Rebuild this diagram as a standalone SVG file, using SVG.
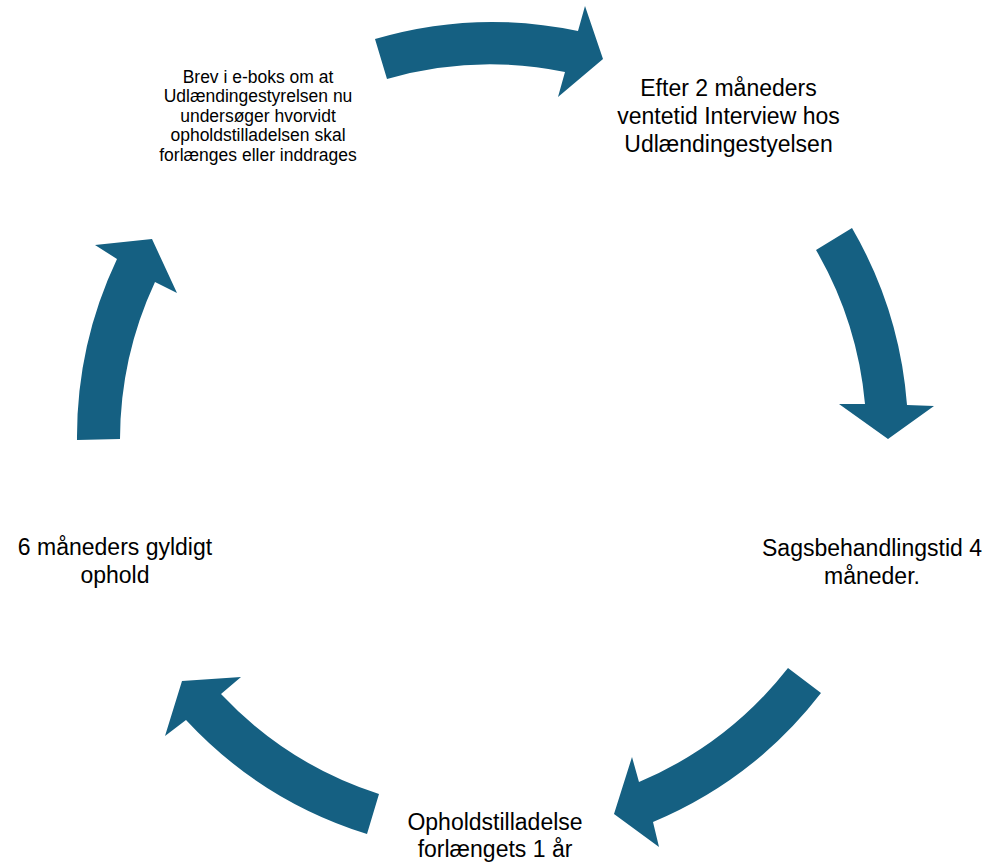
<svg xmlns="http://www.w3.org/2000/svg" width="987" height="864" viewBox="0 0 987 864">
<style>
.arrow{fill:#156082;stroke:none}
.lbl{font-family:"Liberation Sans",Arial,sans-serif;fill:#000;text-anchor:middle}
.big{font-size:23px}
.small{font-size:17.5px}
</style>
<rect width="987" height="864" fill="#fff"/>
<g id="connectors">
<path class="arrow" d="M375 39 A416 416 0 0 1 578 31 L585 6 L603 59 L558 97 L565 72 A374 374 0 0 0 387 79 Z"/>
<path class="arrow" d="M852 228 A416 416 0 0 1 907 405 L934 406 L888 439 L839 404 L865 404 A374 374 0 0 0 816 250 Z"/>
<path class="arrow" d="M821 693 A416 416 0 0 1 653 822 L659 847 L614 814 L632 757 L639 782 A374 374 0 0 0 788 668 Z"/>
<path class="arrow" d="M367 834 A416 416 0 0 1 186 720 L165 736 L182 681 L241 677 L221 694 A374 374 0 0 0 379 794 Z"/>
<path class="arrow" d="M77 440 A416 416 0 0 1 117 259 L95 245 L152 239 L177 293 L155 282 A374 374 0 0 0 120 439 Z"/>
</g>
<g id="node-brev">
<text class="lbl small" x="258" y="82.5">Brev i e-boks om at</text>
<text class="lbl small" x="258" y="102">Udlændingestyrelsen nu</text>
<text class="lbl small" x="258" y="121.5">undersøger hvorvidt</text>
<text class="lbl small" x="258" y="141">opholdstilladelsen skal</text>
<text class="lbl small" x="258" y="160.5">forlænges eller inddrages</text>
</g>
<g id="node-interview">
<text class="lbl big" x="728.5" y="96">Efter 2 måneders</text>
<text class="lbl big" x="728.5" y="124">ventetid Interview hos</text>
<text class="lbl big" x="728.5" y="152">Udlændingestyelsen</text>
</g>
<g id="node-sagsbehandling">
<text class="lbl big" x="872" y="556">Sagsbehandlingstid 4</text>
<text class="lbl big" x="872" y="584">måneder.</text>
</g>
<g id="node-forlaenget">
<text class="lbl big" x="495" y="830">Opholdstilladelse</text>
<text class="lbl big" x="495" y="857">forlængets 1 år</text>
</g>
<g id="node-ophold">
<text class="lbl big" x="115" y="555">6 måneders gyldigt</text>
<text class="lbl big" x="115" y="583">ophold</text>
</g>
</svg>
